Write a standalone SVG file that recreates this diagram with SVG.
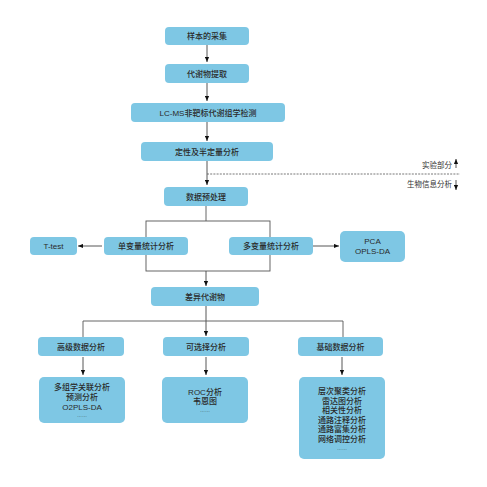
<svg xmlns="http://www.w3.org/2000/svg" width="487" height="487" viewBox="0 0 487 487">
<defs>
<marker id="ah" viewBox="0 0 5 5" refX="5" refY="2.5" markerWidth="5" markerHeight="5" markerUnits="userSpaceOnUse" orient="auto">
<path d="M0,0.4 L5,2.5 L0,4.6 Z" fill="#111"/>
</marker>
<style>
.box{fill:#7EC7E4;}
.t{font-family:"Liberation Sans","Noto Sans CJK SC",sans-serif;font-size:8px;fill:#2a2a2a;text-anchor:middle;font-weight:500;}
.l{font-family:"Liberation Sans","Noto Sans CJK SC",sans-serif;font-size:7.5px;fill:#333;text-anchor:end;}
.c{stroke:#555;stroke-width:0.9;fill:none;}
.a{stroke:#444;stroke-width:0.9;fill:none;marker-end:url(#ah);}
</style>
</defs>
<rect width="487" height="487" fill="#fff"/>
<g id="connectors">
<line class="a" x1="207" y1="45" x2="207" y2="62"/>
<line class="a" x1="207" y1="83" x2="207" y2="101"/>
<line class="a" x1="207" y1="122" x2="207" y2="141"/>
<line class="a" x1="207" y1="161" x2="207" y2="185"/>
<line x1="207" y1="174" x2="460" y2="174" stroke="#555" stroke-width="0.8" stroke-dasharray="2,1.2"/>
<line class="a" x1="456" y1="168" x2="456" y2="159"/>
<line class="a" x1="456" y1="180" x2="456" y2="190"/>
<polyline class="c" points="206,206 206,221"/>
<rect class="c" x="146" y="221" width="124" height="50"/>
<line class="a" x1="206" y1="271" x2="206" y2="286"/>
<line class="a" x1="102" y1="246" x2="78" y2="246"/>
<line class="a" x1="313" y1="246" x2="339" y2="246"/>
<line class="a" x1="206" y1="306" x2="206" y2="336"/>
<polyline class="c" points="83,337 83,321 343,321 343,337"/>
<line class="a" x1="83" y1="357" x2="83" y2="375"/>
<line class="a" x1="206" y1="357" x2="206" y2="375"/>
<line class="a" x1="342" y1="357" x2="342" y2="375"/>
</g>
<g id="labels">
<text class="l" x="452" y="168">实验部分</text>
<text class="l" x="452" y="187">生物信息分析</text>
</g>
<g id="n1"><rect class="box" x="165" y="27" width="84" height="18" rx="4"/><text class="t" x="207" y="39">样本的采集</text></g>
<g id="n2"><rect class="box" x="165" y="64" width="84" height="19" rx="4"/><text class="t" x="207" y="76.5">代谢物提取</text></g>
<g id="n3"><rect class="box" x="131" y="103" width="154" height="19" rx="4"/><text class="t" x="208" y="115.5">LC-MS非靶标代谢组学检测</text></g>
<g id="n4"><rect class="box" x="141" y="142" width="132" height="19" rx="4"/><text class="t" x="207" y="154.5">定性及半定量分析</text></g>
<g id="n5"><rect class="box" x="164" y="187" width="84" height="19" rx="4"/><text class="t" x="206" y="199.5">数据预处理</text></g>
<g id="n6"><rect class="box" x="104" y="237" width="84" height="18" rx="4"/><text class="t" x="146" y="249">单变量统计分析</text></g>
<g id="n7"><rect class="box" x="229" y="237" width="84" height="18" rx="4"/><text class="t" x="271" y="249">多变量统计分析</text></g>
<g id="n8"><rect class="box" x="30" y="237" width="47" height="18" rx="4"/><text class="t" x="53.5" y="249">T-test</text></g>
<g id="n9"><rect class="box" x="340" y="231" width="65" height="31" rx="5"/><text class="t" x="372.5" y="244">PCA</text><text class="t" x="372.5" y="254">OPLS-DA</text></g>
<g id="n10"><rect class="box" x="151" y="287" width="108" height="19" rx="4"/><text class="t" x="205" y="299.5">差异代谢物</text></g>
<g id="n11"><rect class="box" x="38" y="337" width="86" height="19" rx="4"/><text class="t" x="81" y="349.5">高级数据分析</text></g>
<g id="n12"><rect class="box" x="163" y="337" width="86" height="19" rx="4"/><text class="t" x="206" y="349.5">可选择分析</text></g>
<g id="n13"><rect class="box" x="298" y="337" width="85" height="19" rx="4"/><text class="t" x="340.5" y="349.5">基础数据分析</text></g>
<g id="n14"><rect class="box" x="39" y="377" width="86" height="46" rx="5"/>
<text class="t" x="82" y="390">多组学关联分析</text><text class="t" x="82" y="400">预测分析</text><text class="t" x="82" y="410">O2PLS-DA</text><text class="t" x="82" y="417" style="font-size:5px">……</text></g>
<g id="n15"><rect class="box" x="162" y="377" width="86" height="46" rx="5"/>
<text class="t" x="205" y="395">ROC分析</text><text class="t" x="205" y="404">韦恩图</text><text class="t" x="205" y="412" style="font-size:5px">……</text></g>
<g id="n16"><rect class="box" x="299" y="377" width="86" height="82" rx="5"/>
<text class="t" x="342" y="394">层次聚类分析</text><text class="t" x="342" y="403.6">雷达图分析</text><text class="t" x="342" y="413.2">相关性分析</text><text class="t" x="342" y="422.8">通路注释分析</text><text class="t" x="342" y="432.4">通路富集分析</text><text class="t" x="342" y="442">网络调控分析</text><text class="t" x="342" y="450" style="font-size:5px">……</text></g>
</svg>
